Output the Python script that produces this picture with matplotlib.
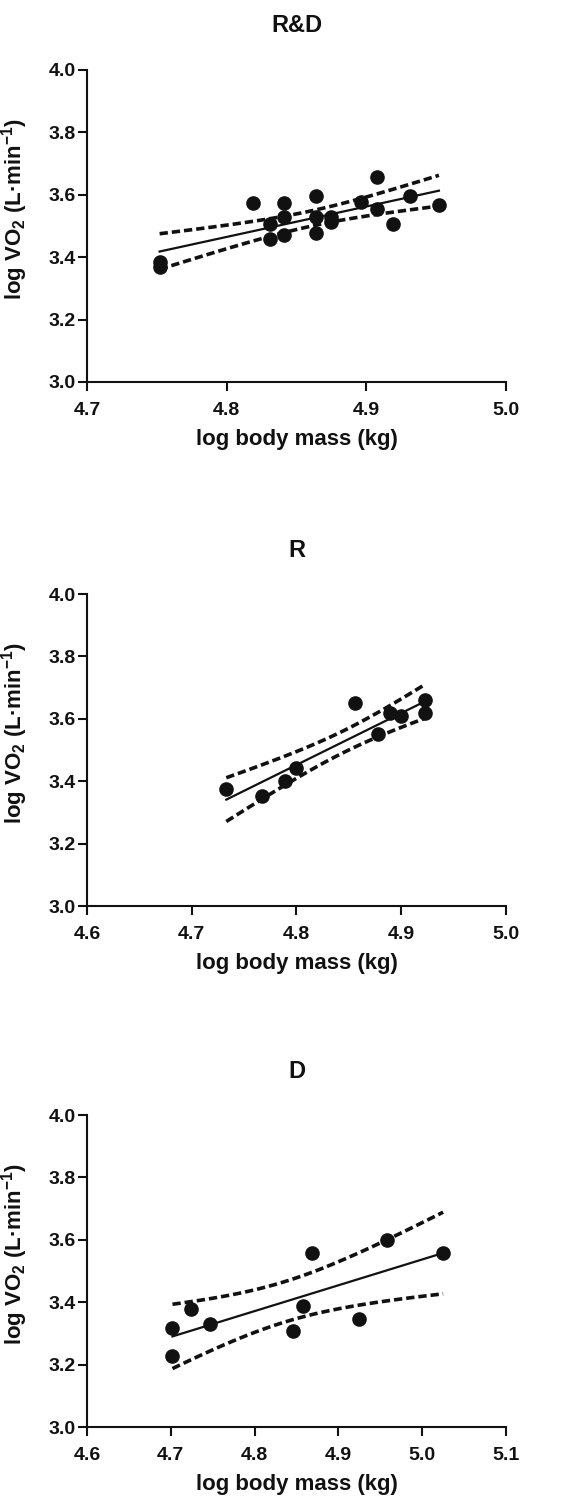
import matplotlib
matplotlib.use("Agg")
import matplotlib.pyplot as plt
import numpy as np

# R&D group
rd_mass = [4.752, 4.752, 4.819, 4.841, 4.841, 4.831, 4.831, 4.841, 4.864, 4.864,
           4.864, 4.875, 4.875, 4.896, 4.908, 4.908, 4.919, 4.931, 4.952]
rd_vo2 = [3.385, 3.369, 3.574, 3.574, 3.529, 3.506, 3.458, 3.471, 3.596, 3.529,
          3.478, 3.529, 3.513, 3.577, 3.657, 3.554, 3.506, 3.596, 3.567]

# R group
r_mass = [4.733, 4.767, 4.789, 4.800, 4.856, 4.878, 4.889, 4.900, 4.923, 4.923]
r_vo2 = [3.374, 3.353, 3.401, 3.443, 3.652, 3.551, 3.620, 3.609, 3.660, 3.620]

# D group
d_mass = [4.702, 4.702, 4.724, 4.747, 4.846, 4.858, 4.869, 4.925, 4.958, 5.025]
d_vo2 = [3.318, 3.228, 3.377, 3.329, 3.308, 3.388, 3.559, 3.347, 3.598, 3.559]

titles = ["R&D", "R", "D"]
xticks = [[4.7, 4.8, 4.9, 5.0], [4.6, 4.7, 4.8, 4.9, 5.0], [4.6, 4.7, 4.8, 4.9, 5.0, 5.1]]
yticks = [3.0, 3.2, 3.4, 3.6, 3.8, 4.0]
t_crit = [2.110, 2.306, 2.306]  # 95% t for n-2 df

plt.rcParams['font.family'] = ['Liberation Sans', 'DejaVu Sans']
plt.rcParams['font.weight'] = 'bold'
plt.rcParams['mathtext.fontset'] = 'custom'
plt.rcParams['mathtext.rm'] = 'Liberation Sans:bold'
plt.rcParams['mathtext.it'] = 'Liberation Sans:bold'
plt.rcParams['mathtext.bf'] = 'Liberation Sans:bold'
plt.rcParams['mathtext.default'] = 'rm'

ink = '#111111'
fig = plt.figure(figsize=(5.85, 15.02), dpi=100)
bottoms = [0.7457, 0.3968, 0.0499]
data = [(rd_mass, rd_vo2), (r_mass, r_vo2), (d_mass, d_vo2)]

for i in range(3):
    ax = fig.add_axes([0.1487, bottoms[i], 0.7162, 0.2077])
    x = np.array(data[i][0])
    y = np.array(data[i][1])

    # linear fit with 95% confidence band of the mean
    b, a = np.polyfit(x, y, 1)
    n = len(x)
    resid = y - (a + b * x)
    s = np.sqrt(np.sum(resid ** 2) / (n - 2))
    sxx = np.sum((x - x.mean()) ** 2)
    xs = np.linspace(x.min(), x.max(), 100)
    fit = a + b * xs
    half = t_crit[i] * s * np.sqrt(1.0 / n + (xs - x.mean()) ** 2 / sxx)

    ax.plot(x, y, 'o', color=ink, markersize=9.5, zorder=3)
    ax.plot(xs, fit, '-', color=ink, linewidth=1.6)
    ax.plot(xs, fit + half, color=ink, linewidth=2.6, dashes=(2.3, 1.1))
    ax.plot(xs, fit - half, color=ink, linewidth=2.6, dashes=(2.3, 1.1))

    ax.set_xlim(xticks[i][0], xticks[i][-1])
    ax.set_ylim(3.0, 4.0)
    ax.set_xticks(xticks[i])
    ax.set_yticks(yticks)
    ax.set_xticklabels(["%.1f" % v for v in xticks[i]])
    ax.set_yticklabels(["%.1f" % v for v in yticks])

    for side in ['top', 'right']:
        ax.spines[side].set_visible(False)
    for side in ['left', 'bottom']:
        ax.spines[side].set_linewidth(1.5)
        ax.spines[side].set_color(ink)
    ax.tick_params(axis='x', length=6.5, width=1.5, pad=8, labelsize=14, colors=ink)
    ax.tick_params(axis='y', length=6.5, width=1.5, pad=1.5, labelsize=14, colors=ink)

    ax.set_title(titles[i], fontsize=17, fontweight='bold', pad=27, color=ink)
    ax.set_xlabel("log body mass (kg)", fontsize=16, fontweight='bold', labelpad=7, color=ink)
    ax.set_ylabel(r"log VO$_2$ (L·min$^{-1}$)", fontsize=16, fontweight='bold', color=ink)
    ax.yaxis.set_label_coords(-0.136, 0.554)

fig.savefig("out.png", dpi=100)
